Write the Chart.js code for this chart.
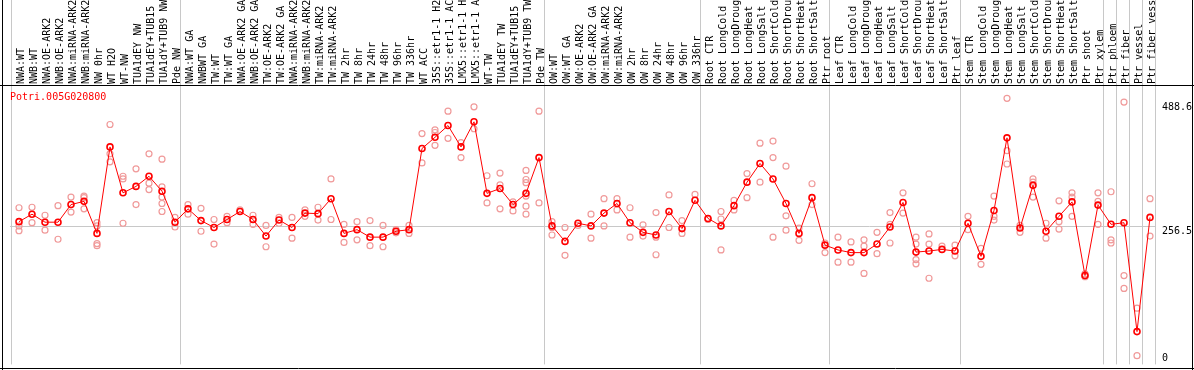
<!DOCTYPE html>
<html>
<head>
<meta charset="utf-8">
<script src="https://cdn.jsdelivr.net/npm/chart.js@4/dist/chart.umd.min.js"></script>
<style>
  html, body { margin: 0; padding: 0; background: #fff; }
  canvas { display: block; }
</style>
</head>
<body>
<canvas id="expr" width="1194" height="370"></canvas>
<script>
var geneName = 'Potri.005G020800';

var categories = [
  'NWA:WT','NWB:WT','NWA:OE-ARK2','NWB:OE-ARK2','NWA:miRNA-ARK2','NWB:miRNA-ARK2','NW 0hr','WT H2O','WT-NW','TUA1dEY NW','TUA1dEY+TUB15','TUA1dY+TUB9 NW','Pde NW',
  'NWA:WT GA','NWBWT GA','TW:WT','TW:WT GA','NWA:OE-ARK2 GA','NWB:OE-ARK2 GA','TW:OE-ARK2','TW:OE-ARK2 GA','NWA:miRNA-ARK2','NWB:miRNA-ARK2','TW:miRNA-ARK2','TW:miRNA-ARK2',
  'TW 2hr','TW 8hr','TW 24hr','TW 48hr','TW 96hr','TW 336hr','WT ACC','35S::etr1-1 H2','35S::etr1-1 AC','LMX5::etr1-1 H','LMX5::etr1-1 A','WT-TW','TUA1dEY TW','TUA1dEY+TUB15','TUA1dY+TUB9 TW','Pde TW',
  'OW:WT','OW:WT GA','OW:OE-ARK2','OW:OE-ARK2 GA','OW:miRNA-ARK2','OW:miRNA-ARK2','OW 2hr','OW 8hr','OW 24hr','OW 48hr','OW 96hr','OW 336hr',
  'Root CTR','Root LongCold','Root LongDroug','Root LongHeat','Root LongSalt','Root ShortCold','Root ShortDrou','Root ShortHeat','Root ShortSalt','Ptr root',
  'Leaf CTR','Leaf LongCold','Leaf LongDroug','Leaf LongHeat','Leaf LongSalt','Leaf ShortCold','Leaf ShortDrou','Leaf ShortHeat','Leaf ShortSalt','Ptr leaf',
  'Stem CTR','Stem LongCold','Stem LongDroug','Stem LongHeat','Stem LongSalt','Stem ShortCold','Stem ShortDrou','Stem ShortHeat','Stem ShortSalt','Ptr shoot','Ptr xylem',
  'Ptr phloem','Ptr fiber','Ptr vessel','Ptr fiber vess'
];

// index where each block of samples starts (plus the end)
var groupStarts = [0, 13, 41, 53, 63, 73, 84, 85, 86, 87, 88];

var means = [
  265, 279, 264, 264, 297, 303, 243, 405, 319, 331, 350, 322, 264,
  289, 267, 254, 269, 284, 269, 238, 268, 254, 281, 280, 308, 243, 250, 236, 236, 247, 250,
  402, 423, 445, 405, 452, 318, 327, 297, 318, 385,
  257, 228, 262, 257, 281, 299, 263, 245, 240, 284, 252, 305,
  271, 257, 295, 339, 374, 345, 299, 243, 310, 221,
  212, 207, 207, 223, 255, 301, 208, 210, 213, 210,
  262, 200, 286, 422, 253, 333, 247, 275, 302, 164, 296,
  260, 263, 59, 273
];

var replicates = [
  [291, 257, 248], [292, 263], [277, 249], [295, 232], [311, 283], [313, 310, 289], [263, 257, 224, 220],
  [447, 392, 377], [350, 345, 262], [364, 297], [392, 337, 325], [382, 330, 311, 299, 284], [273, 255],
  [297, 279], [290, 247], [269, 223], [275, 263], [287], [277, 260], [258, 218], [273, 262], [273, 234],
  [287, 275], [292, 268], [345, 269], [260, 226], [265, 231], [267, 220], [258, 218], [250, 244], [258, 243],
  [430, 375], [437, 432, 408], [472, 421], [413, 385], [480, 439], [351, 300], [356, 334, 289], [302, 285],
  [361, 344, 338, 313, 294, 279], [472, 300],
  [265, 254, 240], [254, 202], [258], [279, 234], [308, 257], [308, 287], [291, 236], [259, 238],
  [282, 236, 203], [315, 254], [267, 243], [316],
  [269], [284, 270, 212], [305, 287], [355, 310], [412, 339], [416, 385, 236], [369, 276, 249], [253, 230],
  [336, 297], [225, 207],
  [236, 189], [227, 189], [231, 219, 168], [245, 205], [282, 260, 225], [319, 281], [236, 223, 194, 186],
  [242, 223, 159], [219], [221, 201],
  [275, 250], [215, 185], [313, 275, 268], [496, 398, 373], [258, 245], [345, 339, 311], [262, 234],
  [304, 265, 251], [319, 311, 275], [167, 162], [319, 303, 260],
  [321, 231, 225], [489, 164, 140], [103, 14], [308, 238]
];

var yTicks = [0, 256.5, 488.6];

var meanPts = means.map(function(v, i){ return {x: i, y: v}; });
var repPts = [];
replicates.forEach(function(list, i){
  list.forEach(function(v){ repPts.push({x: i, y: v}); });
});

var xTicks = [];
groupStarts.forEach(function(k){ xTicks.push({value: k - 8 / 13, sep: true}); });
categories.forEach(function(c, i){ xTicks.push({value: i, lab: c}); });
xTicks.sort(function(a, b){ return a.value - b.value; });

var frame = {
  id: 'frame',
  afterDraw: function(chart){
    var ctx = chart.ctx;
    ctx.save();
    ctx.strokeStyle = '#000';
    ctx.lineWidth = 1;
    ctx.beginPath();
    ctx.moveTo(2.5, 0); ctx.lineTo(2.5, 370);
    ctx.moveTo(1192.5, 0); ctx.lineTo(1192.5, 370);
    ctx.moveTo(0, 368.5); ctx.lineTo(1194, 368.5);
    ctx.moveTo(0, 85.5); ctx.lineTo(1194, 85.5);
    ctx.stroke();
    ctx.fillStyle = '#ff0000';
    ctx.font = '10px "DejaVu Sans Mono"';
    ctx.textBaseline = 'middle';
    ctx.fillText(geneName, 10, 97);
    ctx.restore();
  }
};

var mono = {family: '"DejaVu Sans Mono", monospace', size: 10, lineHeight: 1};

new Chart(document.getElementById('expr'), {
  type: 'scatter',
  data: {
    datasets: [{
      type: 'line',
      data: meanPts,
      borderColor: '#ff0000',
      borderWidth: 1,
      pointStyle: 'circle',
      pointRadius: 3,
      pointBorderWidth: 1.6,
      pointBorderColor: '#ff0000',
      pointBackgroundColor: 'rgba(0,0,0,0)',
      tension: 0,
      order: 1
    }, {
      data: repPts,
      showLine: false,
      pointStyle: 'circle',
      pointRadius: 3,
      pointBorderWidth: 1.2,
      pointBorderColor: '#f09a9a',
      pointBackgroundColor: 'rgba(0,0,0,0)',
      order: 2
    }]
  },
  options: {
    responsive: false,
    animation: false,
    devicePixelRatio: 1,
    layout: {padding: {left: 10, right: 0, top: 0, bottom: 2}},
    plugins: {legend: {display: false}, tooltip: {enabled: false}},
    scales: {
      x: {
        type: 'linear',
        position: 'top',
        min: -9 / 13,
        max: (1156 - 19) / 13,
        afterBuildTicks: function(scale){ scale.ticks = xTicks.slice(); },
        afterFit: function(scale){
          scale.height = 86;
          scale.paddingLeft = 0; scale.paddingRight = 0;
          scale.paddingTop = 0; scale.paddingBottom = 0;
        },
        border: {display: false},
        grid: {
          color: function(c){ return c.tick && c.tick.sep ? '#c8c8c8' : 'rgba(0,0,0,0)'; },
          lineWidth: 1,
          drawTicks: true,
          tickLength: 86
        },
        ticks: {
          autoSkip: false,
          minRotation: 90,
          maxRotation: 90,
          padding: -84,
          labelOffset: 12,
          color: '#000',
          font: mono,
          callback: function(v, i, ticks){ return ticks[i].lab || ''; }
        }
      },
      y: {
        type: 'linear',
        position: 'right',
        min: -2.4,
        max: 519.1,
        afterBuildTicks: function(scale){
          scale.ticks = yTicks.map(function(v){ return {value: v}; });
        },
        afterFit: function(scale){
          scale.width = 38;
          scale.paddingTop = 0; scale.paddingBottom = 0;
        },
        border: {display: false},
        grid: {
          color: function(c){ return c.tick && c.tick.value === 256.5 ? '#c8c8c8' : 'rgba(0,0,0,0)'; },
          drawTicks: false
        },
        ticks: {
          padding: 6,
          color: '#000',
          font: mono,
          callback: function(v){
            return v === 0 ? ['0', ''] : ['', String(v)];
          }
        }
      }
    }
  },
  plugins: [frame]
});
</script>
</body>
</html>
